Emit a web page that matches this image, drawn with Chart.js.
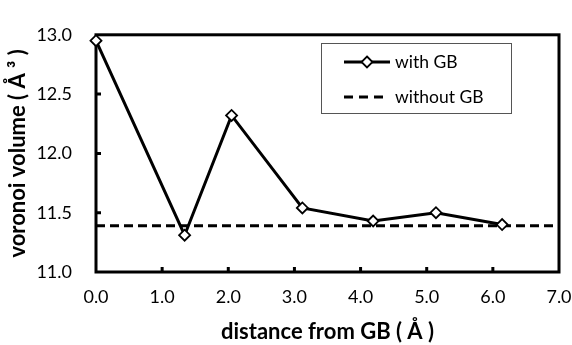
<html>
<head>
<meta http-equiv="Content-Type" content="text/html; charset=UTF-8">
<title>voronoi volume</title>
<script src="https://cdn.jsdelivr.net/npm/chart.js@4/dist/chart.umd.min.js"></script>
<style>
  body { margin: 0; background: #fff; }
</style>
</head>
<body>
<div style="width:572px;height:345px">
  <canvas id="chart1"></canvas>
</div>

<script>
// distance from the GB plane (Å) and voronoi volume (Å^3)
var distance = [0.0, 1.34, 2.05, 3.12, 4.19, 5.14, 6.14];
var volumeGB = [12.95, 11.31, 12.32, 11.54, 11.43, 11.50, 11.40];
// bulk reference, drawn flat across the whole x range
var bulkX = [0.0, 7.0];
var bulkVolume = [11.39, 11.39];

var seriesNames = ["with GB", "without GB"];
var xTitle = "distance from GB ( Å )";
var yTitle = "voronoi volume ( Å ³ )";

function toPoints(xs, ys) {
  return xs.map(function (x, i) { return { x: x, y: ys[i] }; });
}

Chart.defaults.font.family = "Lato";
Chart.defaults.color = "#000";

// black frame round the plot plus short inward tick marks
var framePlugin = {
  id: "frame",
  beforeDatasetsDraw: function (chart) {
    var ctx = chart.ctx, a = chart.chartArea;
    var xs = chart.scales.x, ys = chart.scales.y;
    ctx.save();
    ctx.strokeStyle = "#000";
    ctx.lineWidth = 3;
    ctx.strokeRect(a.left, a.top, a.right - a.left, a.bottom - a.top);
    ctx.beginPath();
    xs.ticks.forEach(function (t) {
      var px = xs.getPixelForValue(t.value);
      if (px <= a.left + 1 || px >= a.right - 1) return;
      ctx.moveTo(px, a.bottom);
      ctx.lineTo(px, a.bottom - 5);
    });
    ys.ticks.forEach(function (t) {
      var py = ys.getPixelForValue(t.value);
      if (py <= a.top + 1 || py >= a.bottom - 1) return;
      ctx.moveTo(a.left, py);
      ctx.lineTo(a.left + 5, py);
    });
    ctx.stroke();
    ctx.restore();
  }
};

// boxed legend in the upper right of the plot
var legendBox = {
  id: "legendBox",
  afterDraw: function (chart) {
    var ctx = chart.ctx;
    var bx = 321, by = 43, bw = 190, bh = 70;
    ctx.save();
    ctx.fillStyle = "#fff";
    ctx.fillRect(bx, by, bw, bh);
    ctx.strokeStyle = "#555";
    ctx.lineWidth = 1;
    ctx.strokeRect(bx + 0.5, by + 0.5, bw, bh);

    var rows = [by + 19, by + 54];
    chart.data.datasets.forEach(function (ds, i) {
      var y = rows[i];
      ctx.strokeStyle = ds.borderColor;
      ctx.lineWidth = ds.borderWidth;
      ctx.setLineDash(ds.borderDash ? [9, 6] : []);
      ctx.beginPath();
      ctx.moveTo(344, y);
      ctx.lineTo(ds.borderDash ? 383 : 390, y);
      ctx.stroke();
      ctx.setLineDash([]);
      if (ds.pointRadius > 0) {
        var r = ds.pointRadius;
        ctx.fillStyle = ds.pointBackgroundColor;
        ctx.strokeStyle = ds.pointBorderColor;
        ctx.lineWidth = ds.pointBorderWidth;
        ctx.beginPath();
        ctx.moveTo(367, y - r);
        ctx.lineTo(367 + r, y);
        ctx.lineTo(367, y + r);
        ctx.lineTo(367 - r, y);
        ctx.closePath();
        ctx.fill();
        ctx.stroke();
      }
      ctx.fillStyle = "#000";
      ctx.font = "17.5px Lato";
      ctx.textBaseline = "middle";
      ctx.textAlign = "left";
      ctx.fillText(ds.label, 395, y);
    });
    ctx.restore();
  }
};

var myChart = new Chart(document.getElementById("chart1"), {
  type: "scatter",
  data: {
    datasets: [
      {
        label: seriesNames[0],
        data: toPoints(distance, volumeGB),
        showLine: true,
        borderColor: "#000",
        borderWidth: 3,
        pointStyle: "rectRot",
        pointRadius: 5.5,
        pointHoverRadius: 5.5,
        pointBackgroundColor: "#fff",
        pointBorderColor: "#000",
        pointBorderWidth: 1.8,
        clip: false
      },
      {
        label: seriesNames[1],
        data: toPoints(bulkX, bulkVolume),
        showLine: true,
        borderColor: "#000",
        borderWidth: 3,
        borderDash: [9, 5],
        pointRadius: 0,
        pointHoverRadius: 0
      }
    ]
  },
  options: {
    responsive: true,
    maintainAspectRatio: false,
    animation: false,
    layout: { padding: { top: 18, right: 13, left: 0, bottom: 0 } },
    plugins: {
      legend: { display: false },
      tooltip: { enabled: false }
    },
    scales: {
      x: {
        type: "linear",
        min: 0,
        max: 7,
        grid: { display: false, drawTicks: false },
        border: { display: false },
        ticks: {
          stepSize: 1,
          padding: 14,
          font: { size: 18 },
          callback: function (v) { return v.toFixed(1); }
        },
        title: {
          display: true,
          text: xTitle,
          font: { size: 22, weight: "bold" },
          padding: { top: 0, bottom: 0 }
        },
        afterFit: function (scale) {
          scale.height = 73;
          scale.paddingRight = 13;
          scale.paddingLeft = 0;
        }
      },
      y: {
        min: 11,
        max: 13,
        grid: { display: false, drawTicks: false },
        border: { display: false },
        ticks: {
          stepSize: 0.5,
          padding: 24,
          font: { size: 18 },
          callback: function (v) { return v.toFixed(1); }
        },
        title: {
          display: true,
          text: yTitle,
          font: { size: 22, weight: "bold" },
          padding: { top: 5, bottom: 0 }
        },
        afterFit: function (scale) {
          scale.width = 96;
        }
      }
    }
  },
  plugins: [framePlugin, legendBox]
});
</script>
</body>
</html>
